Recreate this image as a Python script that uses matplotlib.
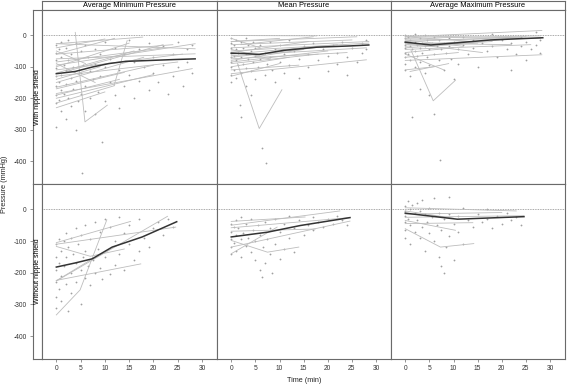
import numpy as np
import matplotlib
matplotlib.use("Agg")
import matplotlib.pyplot as plt

plt.rcParams['font.family'] = ['Liberation Sans', 'DejaVu Sans']
plt.rcParams['axes.unicode_minus'] = False

col_titles = ["Average Minimum Pressure", "Mean Pressure", "Average Maximum Pressure"]
row_titles = ["With nipple shield", "Without nipple shield"]
y_ticks = [0, -100, -200, -300, -400]
x_ticks = [0, 5, 10, 15, 20, 25, 30]

# group mean curves (time in min, pressure in mmHg)
mean_amin_s = ([0, 3.9, 7.4, 10.8, 14.3, 17.7, 24.6, 28.6], [-122, -115, -101, -90, -83, -81, -77, -75])
mean_mean_s = ([0, 2.7, 5.8, 10.9, 17.7, 24.6, 28.5], [-57, -58, -61, -48, -38, -34, -31])
mean_amax_s = ([0, 5.3, 10.8, 17.7, 28.5], [-22, -31, -24, -15, -8])
mean_amin_ns = ([0, 3.9, 7.4, 11.5, 17.7, 24.8], [-182, -169, -156, -119, -87, -39])
mean_mean_ns = ([0, 7.5, 14.3, 24.6], [-87, -72, -51, -26])
mean_amax_ns = ([0, 10.8, 24.6], [-12, -31, -23])

# individual subject curves
lines_amin_s = [
    ([0, 28.6], [-27, -43]), ([0, 28.6], [-75, -59]), ([0, 28], [-185, -106]),
    ([0, 20], [-200, -125]), ([0, 15], [-100, -25]), ([3.9, 5.9, 10.5], [9, -275, -222]),
    ([0, 18], [-150, -70]), ([0, 10], [-40, -12]), ([0, 22], [-85, -40]),
    ([0, 25], [-130, -85]), ([0, 14], [-170, -118]), ([0, 8], [-90, -150]),
    ([0, 12], [-60, -10]), ([0, 16], [-120, -50]), ([0, 12], [-215, -160]),
    ([11.9, 14.6], [-159, -17]), ([0, 17.8], [-27, -6]), ([0, 9], [-140, -100]),
    ([0, 26], [-110, -60]), ([0, 6], [-50, -90]), ([0, 20], [-165, -95]),
    ([0, 28.6], [-95, -27]), ([0, 13], [-190, -140]), ([0, 24], [-60, -30]),
    ([0, 10], [-230, -180]), ([2, 22], [-115, -30]),
]
lines_mean_s = [
    ([0, 17.7], [-1, -2]), ([1.3, 5.8, 10.5], [-90, -296, -173]), ([0, 28], [-122, -78]),
    ([0, 28.5], [-40, -20]), ([0, 28.5], [-50, -25]), ([0, 20], [-70, -35]),
    ([0, 25], [-30, -15]), ([0, 15], [-80, -45]), ([0, 10], [-20, -10]),
    ([0, 12], [-100, -70]), ([0, 22], [-60, -30]), ([0, 18], [-90, -60]),
    ([0, 28], [-65, -40]), ([0, 8], [-45, -75]), ([0, 14], [-110, -95]),
    ([0, 26], [-20, -5]), ([0, 6], [-10, -40]), ([0, 16], [-55, -20]),
    ([0, 20], [-85, -50]), ([0, 10], [-130, -90]), ([0, 24], [-75, -55]),
    ([2, 17], [-30, -5]),
]
lines_amax_s = [
    ([0, 28.3], [-80, -62]), ([1.2, 5.8, 10.4], [-48, -208, -143]), ([0, 28.3], [-5, 15]),
    ([0, 28], [-10, -2]), ([0, 25], [-20, -5]), ([0, 20], [-30, -15]),
    ([0, 15], [-40, -25]), ([0, 12], [-15, -35]), ([0, 22], [-25, -30]),
    ([0, 10], [-55, -40]), ([0, 18], [-35, -20]), ([0, 8], [-60, -110]),
    ([0, 28], [-15, -10]), ([0, 6], [-110, -100]), ([1, 9], [-115, -90]),
    ([0, 26], [-45, -30]), ([0, 14], [-5, -20]), ([0, 24], [-2, -8]),
    ([0, 11], [-70, -55]), ([0, 16], [-25, -55]),
]
lines_amin_ns = [
    ([0, 15.3], [-105, -38]), ([0, 24.6], [-110, -56]), ([0, 7, 14], [-117, -148, -125]),
    ([0, 4.9, 10.4], [-333, -254, -33]), ([0, 17.4], [-224, -172]), ([0, 22.9], [-226, -22]),
    ([0, 7], [-225, -160]),
]
lines_mean_ns = [
    ([0, 15.3], [-38, -24]), ([0, 22.5], [-50, -5]), ([0, 17.4], [-69, -62]),
    ([0, 7.5, 14], [-98, -135, -119]), ([0, 9.5], [-140, -56]), ([0, 24.6], [-119, -37]),
    ([0, 24.6], [-58, -26]),
]
lines_amax_ns = [
    ([0, 23], [5, -5]), ([0, 10], [-5, -28]), ([0, 24.6], [-25, -20]),
    ([0, 10.4], [-35, -66]), ([0, 7.3, 14.2], [-61, -119, -108]), ([0, 14], [-45, -42]),
    ([0, 20], [-15, -10]),
]

# raw measurements (time, pressure)
pts_amin_s = [
    (0, -30), (0, -55), (0, -80), (0, -105), (0, -130), (0, -160), (0, -190), (0, -215), (0, -290),
    (0.5, -45), (0.5, -150), (0.5, -205), (1, -20), (1, -70), (1, -125), (1, -175), (1, -240),
    (1.5, -95), (1.5, -185), (2, -40), (2, -110), (2, -155), (2, -265), (2.5, -15), (2.5, -80), (2.5, -200),
    (3, -60), (3, -135), (3, -225), (3.5, -100), (3.5, -170), (4, -25), (4, -145), (4, -300), (4.5, -75),
    (4.5, -210), (5, -50), (5, -120), (5, -185), (5.2, -437), (5.5, -95), (6, -30), (6, -160), (6, -240),
    (6.5, -70), (7, -115), (7, -200), (7.5, -140), (8, -45), (8, -90), (8, -250), (8.5, -180), (9, -60),
    (9, -130), (9.5, -340), (10, -20), (10, -100), (10, -210), (11, -75), (11, -150), (12, -40), (12, -190),
    (13, -110), (13, -230), (14, -60), (14, -160), (15, -15), (15, -125), (16, -85), (16, -200), (17, -45),
    (17, -145), (18, -100), (19, -25), (19, -175), (20, -70), (20, -120), (21, -150), (22, -35), (22, -95),
    (23, -185), (24, -60), (24, -130), (25, -20), (25, -100), (26, -160), (27, -45), (27, -85), (28, -30),
    (28, -120),
]
pts_mean_s = [
    (0, -10), (0, -25), (0, -40), (0, -55), (0, -70), (0, -85), (0, -100), (0, -125), (0, -150),
    (0.5, -30), (0.5, -65), (0.5, -110), (1, -15), (1, -45), (1, -80), (1, -135), (1.5, -55), (1.5, -95),
    (1.8, -222), (2, -20), (2, -70), (2, -120), (2, -260), (2.5, -40), (2.5, -90), (3, -10), (3, -60),
    (3, -105), (3, -160), (3.5, -30), (3.5, -75), (4, -50), (4, -115), (4, -190), (4.5, -20), (4.5, -85),
    (5, -40), (5, -65), (5, -140), (5.5, -100), (6, -30), (6, -75), (6.4, -358), (7, -55), (7, -125),
    (7.2, -405), (7.5, -90), (8, -20), (8, -70), (8.5, -110), (9, -45), (9, -150), (10, -30), (10, -85),
    (11, -60), (11, -120), (12, -15), (12, -95), (13, -50), (14, -75), (14, -135), (15, -35), (16, -60),
    (16, -100), (17, -25), (18, -80), (19, -45), (20, -65), (20, -115), (21, -30), (22, -55), (22, -90),
    (23, -20), (24, -70), (24, -125), (25, -40), (26, -85), (27, -25), (27, -55), (28, -15), (28, -45),
]
pts_amax_s = [
    (0, 0), (0, -10), (0, -20), (0, -30), (0, -40), (0, -55), (0, -70), (0, -90), (0, -110),
    (0.5, -5), (0.5, -25), (0.5, -60), (1, -15), (1, -35), (1, -80), (1, -130), (1.5, -259), (1.5, -45),
    (2, 5), (2, -20), (2, -50), (2, -100), (2.5, -30), (2.5, -65), (3, -10), (3, -40), (3, -85), (3, -170),
    (3.5, -25), (3.5, -55), (4, 0), (4, -35), (4, -120), (4.5, -15), (4.5, -70), (5, -45), (5, -95),
    (5, -190), (5.5, -25), (6, -5), (6, -60), (6, -250), (6.5, -35), (7, -15), (7, -80), (7.1, -396),
    (7.5, -45), (8, -25), (8, -110), (8.5, -55), (9, -10), (9, -35), (9.5, -75), (10, -20), (10, -140),
    (11, -45), (11, -90), (12, -5), (12, -30), (13, -60), (14, -15), (14, -40), (15, -100), (16, -25),
    (17, -50), (18, 5), (18, -35), (19, -70), (20, -15), (21, -45), (22, -25), (22, -110), (23, -60),
    (24, -5), (24, -35), (25, -20), (25, -80), (26, -45), (27, 10), (27, -30), (28, -15), (28, -55),
]
pts_amin_ns = [
    (0, -110), (0, -150), (0, -190), (0, -230), (0, -275), (0, -310), (0.5, -95), (0.5, -170), (0.5, -250),
    (1, -130), (1, -210), (1, -290), (1.5, -100), (1.5, -180), (2, -75), (2, -150), (2, -235), (2.5, -120),
    (2.5, -320), (3, -90), (3, -200), (3, -265), (3.5, -140), (4, -60), (4, -170), (4, -230), (4.5, -110),
    (5, -80), (5, -190), (5, -300), (5.5, -150), (6, -50), (6, -130), (6, -215), (6.5, -180), (7, -95),
    (7, -240), (7.5, -160), (8, -40), (8, -200), (8.5, -125), (9, -70), (9, -185), (9.5, -220), (10, -30),
    (10, -150), (11, -55), (11, -205), (12, -100), (12, -175), (13, -25), (13, -140), (14, -75), (14, -190),
    (15, -50), (15, -110), (16, -160), (17, -30), (17, -130), (18, -90), (19, -120), (20, -60), (21, -40),
    (22, -80), (23, -30), (24, -55),
]
pts_mean_ns = [
    (0, -45), (0, -70), (0, -95), (0, -120), (0, -140), (0.5, -55), (0.5, -105), (1, -35), (1, -80),
    (1, -130), (1.5, -60), (2, -25), (2, -95), (2, -150), (2.5, -75), (3, -45), (3, -115), (3.5, -90),
    (4, -30), (4, -135), (4.5, -65), (5, -100), (5, -160), (5.5, -50), (6, -80), (6, -190), (6.4, -214),
    (6.5, -120), (7, -40), (7, -170), (7.5, -95), (8, -60), (8, -140), (8.5, -200), (9, -30), (9, -110),
    (10, -70), (10, -155), (11, -45), (11, -125), (12, -20), (12, -90), (13, -60), (13, -135), (14, -35),
    (15, -80), (16, -50), (17, -25), (17, -65), (18, -40), (19, -55), (20, -30), (21, -45), (22, -20),
    (23, -35), (24, -50),
]
pts_amax_ns = [
    (0, 10), (0, -5), (0, -20), (0, -40), (0, -65), (0, -90), (0.5, 25), (0.5, -30), (1, 0), (1, -50),
    (1, -110), (1.5, 15), (2, -10), (2, -70), (2.5, 20), (2.5, -35), (3, -5), (3, -90), (3.5, 30),
    (3.5, -55), (4, -15), (4, -130), (4.5, -40), (5, 5), (5, -75), (5.5, -25), (6, 35), (6, -100),
    (6.5, -50), (7, -10), (7, -150), (7.5, -180), (7.5, -65), (8, -30), (8, -200), (8.5, -120), (9, 40),
    (9, -15), (9, -85), (10, -45), (10, -160), (11, -20), (11, -70), (12, 5), (12, -110), (13, -35),
    (14, -55), (15, -15), (16, -40), (17, 0), (17, -30), (18, -60), (19, -20), (20, -45), (21, -10),
    (22, -35), (23, -25), (24, -50),
]

panel_data = [
    [(mean_amin_s, lines_amin_s, pts_amin_s), (mean_mean_s, lines_mean_s, pts_mean_s),
     (mean_amax_s, lines_amax_s, pts_amax_s)],
    [(mean_amin_ns, lines_amin_ns, pts_amin_ns), (mean_mean_ns, lines_mean_ns, pts_mean_ns),
     (mean_amax_ns, lines_amax_ns, pts_amax_ns)],
]

W, H = 567, 386
fig = plt.figure(figsize=(W / 100, H / 100), dpi=100)

frame_col = "#6a6a6a"
col_x = [42, 217, 391, 565]
row_y = [10, 184, 359]
ylim = (-472, 80)
xlim = (-2.95, 33.1)


def fx(px):
    return px / W


def fy(py):
    return 1 - py / H


def style_frame(ax):
    for sp in ax.spines.values():
        sp.set_color(frame_col)
        sp.set_linewidth(0.8)


# column strips
for j, title in enumerate(col_titles):
    sax = fig.add_axes([fx(col_x[j]), fy(row_y[0]), fx(col_x[j + 1] - col_x[j]), (row_y[0] - 1) / H])
    sax.set_xticks([])
    sax.set_yticks([])
    style_frame(sax)
    sax.text(0.5, 0.45, title, ha="center", va="center", fontsize=5.4, transform=sax.transAxes)

for i in range(2):
    h = (row_y[i + 1] - row_y[i]) / H
    # row strip, its left edge carries the y axis
    rax = fig.add_axes([fx(33), fy(row_y[i + 1]), fx(9), h])
    rax.set_ylim(ylim)
    rax.set_xticks([])
    rax.set_yticks(y_ticks)
    rax.tick_params(axis="y", labelsize=4.8, length=2.5, width=0.5, color=frame_col, pad=2,
                    labelcolor="#333333")
    style_frame(rax)
    rax.text(0.5, 0.5, row_titles[i], rotation=90, ha="center", va="center",
             fontsize=5, transform=rax.transAxes)

    for j in range(3):
        ax = fig.add_axes([fx(col_x[j]), fy(row_y[i + 1]), fx(col_x[j + 1] - col_x[j]), h])
        ax.set_xlim(xlim)
        ax.set_ylim(ylim)
        style_frame(ax)
        ax.set_yticks([])
        if i == 1:
            ax.set_xticks(x_ticks)
            ax.tick_params(axis="x", labelsize=4.8, length=2.5, width=0.5, color=frame_col, pad=2,
                           labelcolor="#333333")
        else:
            ax.set_xticks([])

        mean, lines, pts = panel_data[i][j]
        ax.axhline(0, color="#8c8c8c", lw=0.6, ls=(0, (1, 1)), zorder=1)
        pts = np.array(pts, dtype=float)
        ax.plot(pts[:, 0], pts[:, 1], "o", ms=1.3, mew=0, color="#a0a0a0", zorder=2)
        for t, v in lines:
            ax.plot(t, v, color="#bdbdbd", lw=0.6, zorder=3)
        ax.plot(mean[0], mean[1], color="#333333", lw=1.1, zorder=4)

fig.text(fx(304), fy(380), "Time (min)", ha="center", va="center", fontsize=5.2, color="#222222")
fig.text(fx(5), fy(184), "Pressure (mmHg)", ha="center", va="center", rotation=90, fontsize=5.2,
         color="#222222")

fig.savefig("out.png", dpi=100)
